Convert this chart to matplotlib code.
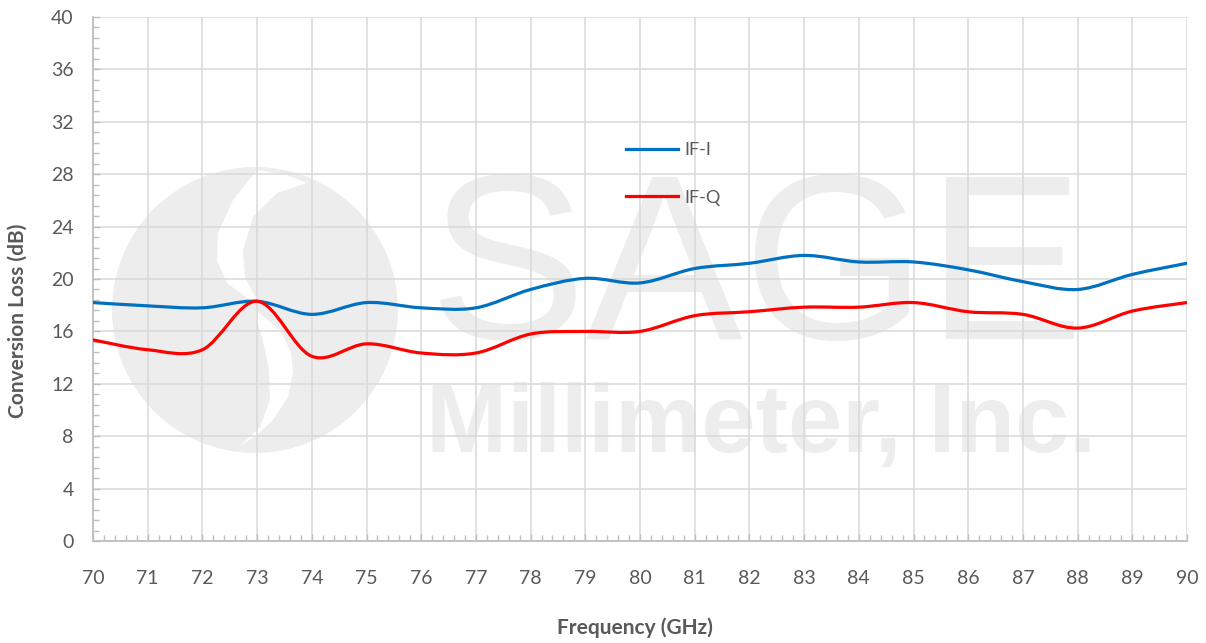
import matplotlib
matplotlib.use('Agg')
import matplotlib.pyplot as plt
import matplotlib.transforms as mtransforms
from matplotlib.path import Path
from matplotlib.patches import PathPatch, Circle, Polygon
from matplotlib.lines import Line2D
from matplotlib.ticker import MultipleLocator
import numpy as np

plt.rcParams['font.family'] = ['Lato', 'DejaVu Sans']

# data (1 GHz steps)
freq = [70, 71, 72, 73, 74, 75, 76, 77, 78, 79, 80,
        81, 82, 83, 84, 85, 86, 87, 88, 89, 90]
if_i = [18.2, 17.95, 17.8, 18.3, 17.3, 18.2, 17.8, 17.8, 19.2, 20.05, 19.7,
        20.8, 21.2, 21.8, 21.3, 21.3, 20.7, 19.8, 19.2, 20.35, 21.2]
if_q = [15.35, 14.6, 14.6, 18.3, 14.1, 15.05, 14.35, 14.35, 15.8, 16.0, 16.0,
        17.2, 17.5, 17.85, 17.85, 18.2, 17.5, 17.3, 16.25, 17.55, 18.2]

W, H = 1206, 643
fig = plt.figure(figsize=(W / 100, H / 100), dpi=100)
ax = fig.add_axes([93 / W, 1 - 541 / H, (1187 - 93) / W, (541 - 17) / H])

grey_txt = '#595959'
wm = '#ededed'
ident = mtransforms.IdentityTransform()


def px(x, y):
    return (x, H - y)


# watermark (logo + company name), behind the grid
ax.add_patch(Circle(px(255, 310), 143, transform=ident, fc=wm, ec='none',
                    zorder=0.1, clip_on=False))
upper = [(257, 170), (233, 200), (218, 233), (217, 260), (227, 283), (250, 300),
         (257, 300), (245, 277), (243, 250), (253, 217), (277, 193), (307, 183),
         (287, 175)]
lower = [(258, 312), (280, 330), (291, 352), (293, 372), (288, 397), (273, 420),
         (257, 435), (240, 446), (260, 427), (270, 400), (269, 370), (264, 345),
         (257, 320)]
for poly in (upper, lower):
    ax.add_patch(Polygon([px(x, y) for x, y in poly], closed=True, transform=ident,
                         fc='white', ec='none', zorder=0.15, clip_on=False))
ax.text(*px(428, 339), 'SAGE', transform=ident, fontsize=170, color=wm,
        family='Liberation Sans', va='baseline', ha='left', zorder=0.1)
ax.text(*px(426, 452), 'Millimeter, Inc.', transform=ident, fontsize=70, color=wm,
        family='Liberation Sans', fontweight='bold', va='baseline', ha='left', zorder=0.1)


def smooth_path(x, y):
    # Excel-like smoothed line: cubic Bezier segments through the data points
    p = np.column_stack([x, y]).astype(float)
    ext = np.vstack([p[0], p, p[-1]])
    verts = [p[0]]
    codes = [Path.MOVETO]
    for i in range(len(p) - 1):
        c1 = p[i] + (ext[i + 2] - ext[i]) / 6
        c2 = p[i + 1] - (ext[i + 3] - ext[i + 1]) / 6
        verts += [c1, c2, p[i + 1]]
        codes += [Path.CURVE4] * 3
    return Path(verts, codes)


for series, col in ((if_i, '#0070c0'), (if_q, '#ff0000')):
    ax.add_patch(PathPatch(smooth_path(freq, series), fill=False, ec=col, lw=2.3,
                           capstyle='round', joinstyle='round', zorder=3))

ax.set_xlim(70, 90)
ax.set_ylim(0, 40)
ax.xaxis.set_major_locator(MultipleLocator(1))
ax.xaxis.set_minor_locator(MultipleLocator(0.2))
ax.yaxis.set_major_locator(MultipleLocator(4))
ax.yaxis.set_minor_locator(MultipleLocator(0.8))

ax.set_axisbelow(True)
ax.grid(True, which='major', color='#d9d9d9', lw=1.1)
for s in ('top', 'right'):
    ax.spines[s].set_visible(False)
for s in ('left', 'bottom'):
    ax.spines[s].set_color('#bfbfbf')
    ax.spines[s].set_linewidth(1.3)

ax.tick_params(which='both', direction='in', color='#bfbfbf', width=1.0)
ax.tick_params(which='major', length=5, labelsize=14, labelcolor=grey_txt)
ax.tick_params(which='minor', length=4)
ax.tick_params(axis='x', which='major', pad=21)
ax.tick_params(axis='y', which='major', pad=14)

fig.text(635 / W, 1 - 628 / H, 'Frequency (GHz)', ha='center', va='center',
         fontsize=15, fontweight='bold', color=grey_txt)
fig.text(18 / W, 1 - 321 / H, 'Conversion Loss (dB)', ha='center', va='center',
         rotation=90, fontsize=15, fontweight='bold', color=grey_txt)

handles = [Line2D([], [], color='#0070c0', lw=2.3),
           Line2D([], [], color='#ff0000', lw=2.3)]
ax.legend(handles, ['IF-I', 'IF-Q'], loc='center left',
          bbox_to_anchor=((617 - 93) / 1094, (541 - 174) / 524),
          frameon=False, fontsize=13, labelcolor=grey_txt, borderpad=0,
          handlelength=2.9, handletextpad=0.35, labelspacing=1.75)

fig.savefig('out.png', dpi=100)
